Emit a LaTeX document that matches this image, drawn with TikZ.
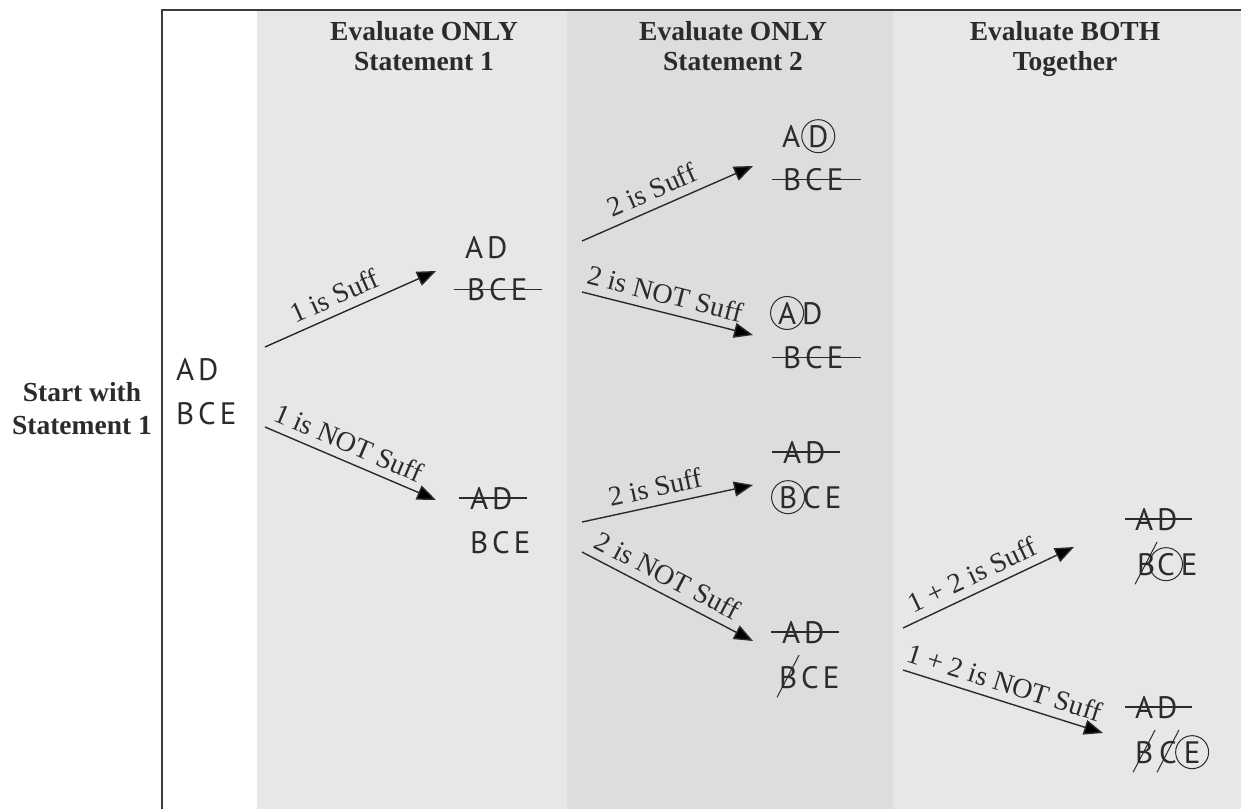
\documentclass[tikz,border=0pt]{standalone}
\usepackage{fontspec}
\setmainfont{Liberation Serif}
\newfontfamily\letterfont{PT Sans}
\usetikzlibrary{arrows.meta}
\definecolor{ink}{HTML}{2B2B2B}
\definecolor{colA}{HTML}{E6E7E9}
\definecolor{colB}{HTML}{DCDDDF}
\definecolor{framec}{HTML}{3A3A3A}
\newcommand{\lsp}{\hspace{4pt}}
\newcommand{\ringed}[1]{\tikz[baseline=0pt,x=1pt,y=1pt]{\node[inner sep=0pt,outer sep=0pt,anchor=base](rgl){#1};\draw[overlay,draw=ink,line width=1pt] (rgl.center) circle[radius=16.5pt];}}
\newcommand{\strk}[1]{\tikz[baseline=0pt,x=1pt,y=1pt]{\node[inner sep=0pt,outer sep=0pt,anchor=base](skl){#1};\draw[overlay,draw=ink,line width=1pt] ([xshift=-11pt,yshift=-9pt]skl.south) -- ([xshift=11pt,yshift=11pt]skl.north);}}
\begin{document}
\begin{tikzpicture}[x=1pt,y=-1pt,
  hdr/.style={font=\fontsize{27.5}{30}\selectfont\bfseries, text=ink, anchor=base, inner sep=0pt},
  ltr/.style={font=\letterfont\fontsize{31}{34}\selectfont, text=ink, anchor=base west, inner sep=0pt, outer sep=0pt},
  lbl/.style={font=\fontsize{28}{30}\selectfont, text=ink, sloped, above, inner sep=8pt},
  arr/.style={draw=ink, line width=1.4pt, -{Triangle[length=19pt,width=15pt]}},
  strike/.style={draw=ink, line width=1.3pt},
  framel/.style={draw=framec, line width=2.2pt}
]
\useasboundingbox (0,0) rectangle (1241,809);
\fill[white] (0,0) rectangle (1241,809);
% columns
\fill[colA] (257,11) rectangle (567,809);
\fill[colB] (567,11) rectangle (893,809);
\fill[colA] (893,11) rectangle (1241,809);
\draw[framel] (162,809) -- (162,10) -- (1241,10);

% headers
\node[hdr] (h1a) at (424,40) {Evaluate ONLY};
\node[hdr] (h1b) at (424,70) {Statement 1};
\node[hdr] (h2a) at (733,40) {Evaluate ONLY};
\node[hdr] (h2b) at (733,70) {Statement 2};
\node[hdr] (h3a) at (1065,40) {Evaluate BOTH};
\node[hdr] (h3b) at (1065,70) {Together};
\node[hdr] (sta) at (82,401) {Start with};
\node[hdr] (stb) at (82,434) {Statement 1};

% start group
\node[ltr] (s-ad) at (176,380) {A\lsp D};
\node[ltr] (s-bce) at (176,424) {B\lsp C\lsp E};

% after 1 is Suff
\node[ltr] (p1-ad) at (465,258) {A\lsp D};
\node[ltr] (p1-bce) at (467,300) {B\lsp C\lsp E};
\draw[strike] ([xshift=-13pt]p1-bce.west) -- ([xshift=15pt]p1-bce.east);

% after 1 is NOT Suff
\node[ltr] (n1-ad) at (470,509) {A\lsp D};
\node[ltr] (n1-bce) at (470,553) {B\lsp C\lsp E};
\draw[strike] ([xshift=-11pt]n1-ad.west) -- ([xshift=15pt]n1-ad.east);

% 2 is Suff (top)
\node[ltr] (ps-ad) at (782,147) {A\hspace{8pt}\ringed{D}};
\node[ltr] (ps-bce) at (783,190) {B\lsp C\lsp E};
\draw[strike] ([xshift=-11pt]ps-bce.west) -- ([xshift=18pt]ps-bce.east);

% 2 is NOT Suff (top)
\node[ltr] (pn-ad) at (778,324) {\ringed{A}\hspace{6pt}D};
\node[ltr] (pn-bce) at (783,368) {B\lsp C\lsp E};
\draw[strike] ([xshift=-11pt]pn-bce.west) -- ([xshift=18pt]pn-bce.east);

% 2 is Suff (bottom)
\node[ltr] (ns-ad) at (783,463) {A\lsp D};
\node[ltr] (ns-bce) at (779,508) {\ringed{B}\hspace{6pt}C\lsp E};
\draw[strike] ([xshift=-11pt]ns-ad.west) -- ([xshift=15pt]ns-ad.east);

% 2 is NOT Suff (bottom)
\node[ltr] (nn-ad) at (782,643) {A\lsp D};
\node[ltr] (nn-bce) at (779,688) {\strk{B}\lsp C\lsp E};
\draw[strike] ([xshift=-11pt]nn-ad.west) -- ([xshift=15pt]nn-ad.east);

% 1 + 2 is Suff
\node[ltr] (bs-ad) at (1135,530) {A\lsp D};
\node[ltr] (bs-bce) at (1137,575) {\strk{B}\hspace{2pt}\ringed{C}\hspace{6pt}E};
\draw[strike] ([xshift=-10pt]bs-ad.west) -- ([xshift=15pt]bs-ad.east);

% 1 + 2 is NOT Suff
\node[ltr] (bn-ad) at (1135,718) {A\lsp D};
\node[ltr] (bn-bce) at (1135,763) {\strk{B}\hspace{6pt}\strk{C}\hspace{7pt}\ringed{E}};
\draw[strike] ([xshift=-10pt]bn-ad.west) -- ([xshift=15pt]bn-ad.east);

% arrow end points
\coordinate (a1s) at (265,347); \coordinate (a1e) at (436,271);
\coordinate (a2s) at (265,427); \coordinate (a2e) at (436,500);
\coordinate (a3s) at (582,241); \coordinate (a3e) at (753,166);
\coordinate (a4s) at (582,292); \coordinate (a4e) at (753,335);
\coordinate (a5s) at (582,522); \coordinate (a5e) at (753,485);
\coordinate (a6s) at (582,552); \coordinate (a6e) at (753,641);
\coordinate (a7s) at (903,628); \coordinate (a7e) at (1074,547);
\coordinate (a8s) at (903,670); \coordinate (a8e) at (1103,733);

\draw[arr] (a1s) -- node[lbl,pos=0.45] {1 is Suff} (a1e);
\draw[arr] (a2s) -- node[lbl,pos=0.45] {1 is NOT Suff} (a2e);
\draw[arr] (a3s) -- node[lbl,pos=0.45] {2 is Suff} (a3e);
\draw[arr] (a4s) -- node[lbl,pos=0.46] {2 is NOT Suff} (a4e);
\draw[arr] (a5s) -- node[lbl,pos=0.45] {2 is Suff} (a5e);
\draw[arr] (a6s) -- node[lbl,pos=0.45] {2 is NOT Suff} (a6e);
\draw[arr] (a7s) -- node[lbl,pos=0.45] {1 + 2 is Suff} (a7e);
\draw[arr] (a8s) -- node[lbl,pos=0.48] {1 + 2 is NOT Suff} (a8e);
\end{tikzpicture}
\end{document}
